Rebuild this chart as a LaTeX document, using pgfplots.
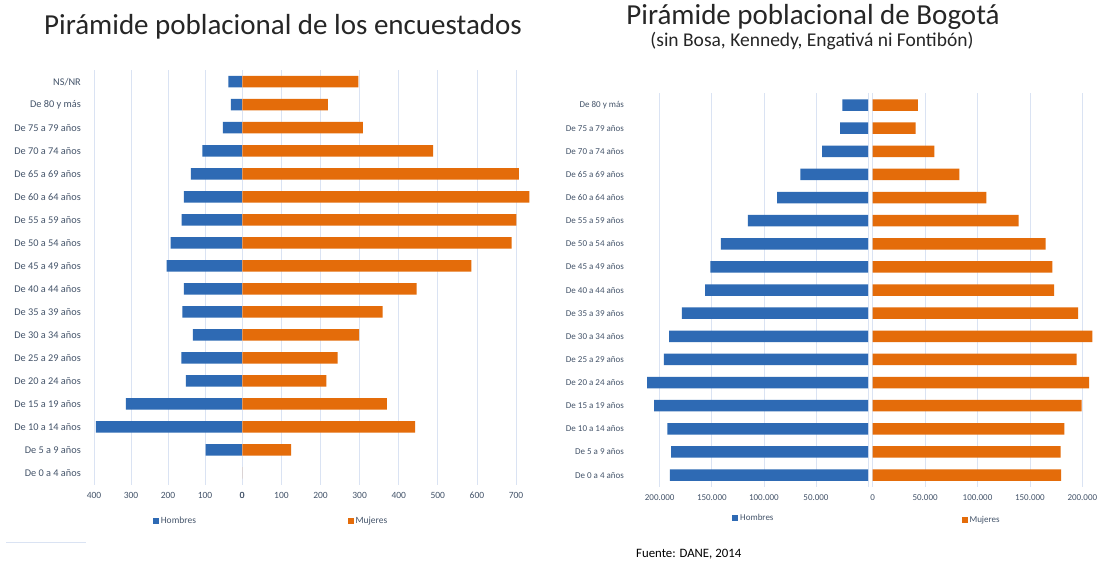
\documentclass[border=0pt]{standalone}
\usepackage{pgfplots}
\pgfplotsset{compat=1.18}
\usepackage{fontspec}
\setmainfont{Carlito}
\definecolor{hblue}{RGB}{46,106,180}
\definecolor{morange}{RGB}{228,108,10}
\definecolor{lbl}{RGB}{68,84,106}
\definecolor{grd}{RGB}{218,227,243}
\definecolor{ttl}{RGB}{38,38,38}
\pgfplotsset{
  pyr/.style={
    scale only axis,
    xbar, bar shift=0pt, bar width=0.5,
    axis line style={draw=none},
    tick style={draw=none},
    major tick length=0pt,
    xmajorgrids, grid style={grd, line width=0.8pt},
    xmin=0,
    /pgf/number format/assume math mode=true,
    scaled x ticks=false,
    xticklabel style={font=\fontsize{9.5}{11}\selectfont, text=lbl, inner sep=0pt, yshift=-7.5pt},
    legend style={draw=none, fill=none, font=\fontsize{9.5}{11}\selectfont, text=lbl, inner sep=0pt,
                  legend cell align=left},
    legend image code/.code={\fill[#1] (0pt,-3pt) rectangle (6pt,3pt);},
  },
}
\begin{document}
\begin{tikzpicture}
\useasboundingbox (0pt,0pt) rectangle (1099pt,565pt);
\fill[white] (0pt,0pt) rectangle (1099pt,565pt);

% ---------- Left chart ----------
\begin{axis}[pyr, at={(94pt,80.5pt)}, anchor=south west,
  width=148pt, height=414.3pt, x dir=reverse, xmax=400,
  xtick={0,100,200,300,400},
  ymin=-0.5, ymax=17.5, ytick={0,...,17},
  yticklabels={De 0 a 4 años,De 5 a 9 años,De 10 a 14 años,De 15 a 19 años,De 20 a 24 años,De 25 a 29 años,De 30 a 34 años,De 35 a 39 años,De 40 a 44 años,De 45 a 49 años,De 50 a 54 años,De 55 a 59 años,De 60 a 64 años,De 65 a 69 años,De 70 a 74 años,De 75 a 79 años,De 80 y más,NS/NR},
  yticklabel style={font=\fontsize{10.3}{11}\selectfont, text=lbl, inner sep=0pt, xshift=-13pt},
  legend style={at={(0.55,-0.087)}, anchor=center}]
\addplot[fill=hblue, draw=none] coordinates {
(0,0) (98,1) (395,2) (314,3) (152,4) (164,5) (133,6) (161,7) (157,8) (204,9) (193,10) (163,11) (157,12) (138,13) (107,14) (52,15) (30,16) (37,17)};
\addlegendentry{Hombres}
\end{axis}
\begin{axis}[pyr, at={(242.3pt,80.5pt)}, anchor=south west,
  width=293.3pt, height=414.3pt, xmax=750,
  xtick={0,100,...,700},
  ymin=-0.5, ymax=17.5, ytick={0,...,17}, yticklabels={},
  legend style={at={(0.43,-0.087)}, anchor=center}]
\addplot[fill=morange, draw=none] coordinates {
(0,0) (125,1) (442,2) (370,3) (215,4) (244,5) (299,6) (359,7) (446,8) (586,9) (689,10) (701,11) (734,12) (707,13) (488,14) (308,15) (219,16) (297,17)};
\addlegendentry{Mujeres}
\end{axis}

% ---------- Right chart ----------
\begin{axis}[pyr, at={(644.1pt,78.4pt)}, anchor=south west,
  width=224pt, height=393.1pt, x dir=reverse, xmax=215000,
  xtick={0,50000,100000,150000,200000},
  xticklabels={,50.000,100.000,150.000,200.000},
  ymin=-0.5, ymax=16.5, ytick={0,...,16},
  xticklabel style={font=\fontsize{9}{11}\selectfont},
  yticklabels={De 0 a 4 años,De 5 a 9 años,De 10 a 14 años,De 15 a 19 años,De 20 a 24 años,De 25 a 29 años,De 30 a 34 años,De 35 a 39 años,De 40 a 44 años,De 45 a 49 años,De 50 a 54 años,De 55 a 59 años,De 60 a 64 años,De 65 a 69 años,De 70 a 74 años,De 75 a 79 años,De 80 y más},
  yticklabel style={font=\fontsize{9}{11}\selectfont, text=lbl, inner sep=0pt, xshift=-20pt},
  legend style={at={(0.49,-0.08)}, anchor=center, font=\fontsize{9}{11}\selectfont}]
\addplot[fill=hblue, draw=none] coordinates {
(190300,0) (189000,1) (192600,2) (205400,3) (212000,4) (196000,5) (191000,6) (178800,7) (156500,8) (151300,9) (141400,10) (115500,11) (87300,12) (65000,13) (44100,14) (26900,15) (24700,16)};
\addlegendentry{Hombres}
\end{axis}
\begin{axis}[pyr, at={(872.7pt,78.4pt)}, anchor=south west,
  width=222.2pt, height=393.1pt, xmax=212000,
  xtick={0,50000,100000,150000,200000},
  xticklabels={0,50.000,100.000,150.000,200.000},
  xticklabel style={font=\fontsize{9}{11}\selectfont},
  ymin=-0.5, ymax=16.5, ytick={0,...,16}, yticklabels={},
  legend style={at={(0.49,-0.085)}, anchor=center, font=\fontsize{9}{11}\selectfont}]
\addplot[fill=morange, draw=none] coordinates {
(179700,0) (179400,1) (182800,2) (199400,3) (206400,4) (194600,5) (209500,6) (195900,7) (173000,8) (171400,9) (165000,10) (139300,11) (108400,12) (82600,13) (58800,14) (41000,15) (43200,16)};
\addlegendentry{Mujeres}
\end{axis}

% ---------- Titles and notes ----------
\node[text=ttl, font=\fontsize{29}{33}\selectfont, anchor=base] at (283pt,530pt) {Pirámide poblacional de los encuestados};
\node[text=ttl, font=\fontsize{29}{33}\selectfont, anchor=base] at (813pt,540pt) {Pirámide poblacional de Bogotá};
\node[text=ttl, font=\fontsize{19.5}{22}\selectfont, anchor=base] at (812pt,518pt) {(sin Bosa, Kennedy, Engativá ni Fontibón)};
\node[text=black, font=\fontsize{12.8}{15}\selectfont, anchor=base west, inner sep=0pt] at (636pt,8pt) {Fuente: DANE, 2014};
\draw[grd, line width=1pt] (6pt,23pt) -- (86pt,23pt);
\end{tikzpicture}
\end{document}
